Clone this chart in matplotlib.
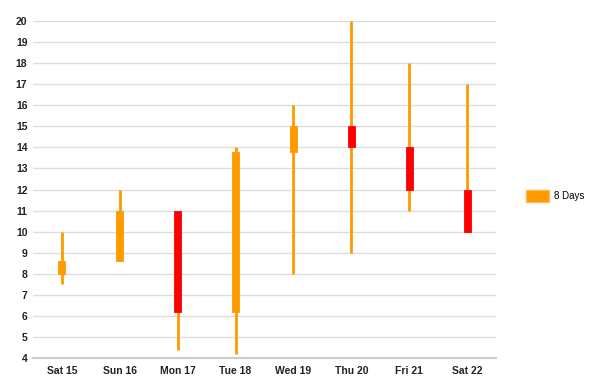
import matplotlib.pyplot as plt
from matplotlib.patches import Patch

# candle data
days = ['Sat 15', 'Sun 16', 'Mon 17', 'Tue 18', 'Wed 19', 'Thu 20', 'Fri 21', 'Sat 22']
opens = [8.0, 8.6, 11.0, 6.2, 13.8, 15.0, 14.0, 12.0]
closes = [8.6, 11.0, 6.2, 13.8, 15.0, 14.0, 12.0, 10.0]
lows = [7.5, 8.6, 4.4, 4.2, 8.0, 9.0, 11.0, 10.0]
highs = [10.0, 12.0, 11.0, 14.0, 16.0, 20.0, 18.0, 17.0]

ORANGE = '#ff9900'
RED = '#ff0000'

plt.rcParams['font.family'] = ['Liberation Sans', 'DejaVu Sans']

fig = plt.figure(figsize=(5.93, 3.92), dpi=100)
ax = fig.add_axes([0.0556, 0.0867, 0.7808, 0.8597])

x = list(range(len(days)))

# wicks
ax.vlines(x, lows, highs, color=ORANGE, linewidth=2, zorder=2)

# bodies
for i in x:
    lo = min(opens[i], closes[i])
    hi = max(opens[i], closes[i])
    col = ORANGE if closes[i] >= opens[i] else RED
    ax.bar(i, hi - lo, bottom=lo, width=0.12, color=col,
           edgecolor=col, linewidth=0.6, zorder=3)

ax.set_xlim(-0.5, 7.5)
ax.set_ylim(4, 20)
ax.set_yticks(range(4, 21))
ax.set_xticks(x)
ax.set_xticklabels(days)

ax.grid(axis='y', color='#dddddd', linewidth=1, zorder=0)
ax.set_axisbelow(True)
for side in ['top', 'right', 'left']:
    ax.spines[side].set_visible(False)
ax.spines['bottom'].set_color('#cccccc')
ax.spines['bottom'].set_linewidth(1.5)
ax.tick_params(axis='both', length=0, labelsize=7.5, colors='#222222')
ax.tick_params(axis='y', pad=4)
ax.tick_params(axis='x', pad=6)
for lbl in ax.get_xticklabels() + ax.get_yticklabels():
    lbl.set_fontweight('bold')

fig.legend(handles=[Patch(facecolor=ORANGE, edgecolor='#ffb84d', label='8 Days')],
           loc='center left', bbox_to_anchor=(0.887, 0.5), frameon=False,
           borderpad=0, borderaxespad=0,
           fontsize=7, handlelength=2.4, handleheight=1.4, handletextpad=0.5)

fig.savefig('out.png', dpi=100)
